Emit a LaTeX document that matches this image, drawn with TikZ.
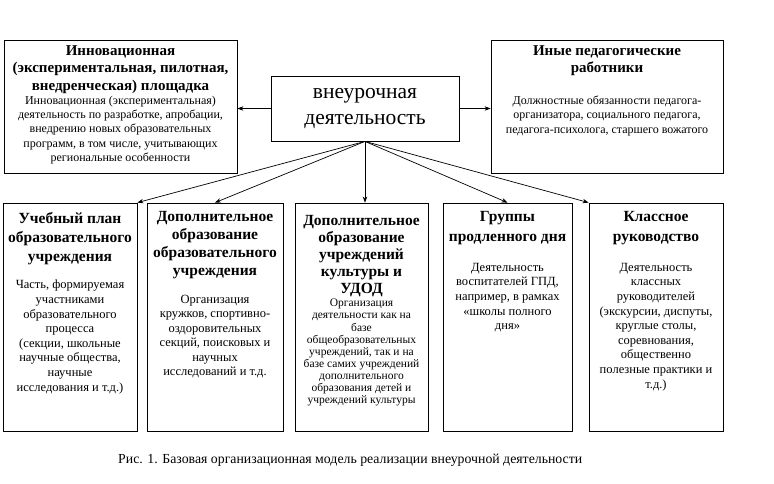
\documentclass[tikz,border=0pt]{standalone}
\usepackage{fontspec}
\setmainfont{Liberation Serif}
\usetikzlibrary{arrows.meta,calc}
\begin{document}
\begin{tikzpicture}[x=1pt,y=-1pt,
  box/.style={draw, line width=0.8pt, inner sep=0pt},
  conn/.style={-{Stealth[length=6pt,width=4.5pt]}, line width=0.7pt},
  ttl/.style={anchor=north, align=center, inner sep=0pt, font=\bfseries\fontsize{15.5}{19}\selectfont},
  ttltop/.style={anchor=north, align=center, inner sep=0pt, font=\bfseries\fontsize{15}{17.5}\selectfont},
  bdy/.style={anchor=north, align=center, inner sep=0pt, font=\fontsize{12.5}{14.6}\selectfont},
  bdytop/.style={anchor=north, align=center, inner sep=0pt, font=\fontsize{12}{14.2}\selectfont},
  bdysmall/.style={anchor=north, align=center, inner sep=0pt, font=\fontsize{11.5}{12.1}\selectfont},
  captext/.style={anchor=west, inner sep=0pt, font=\fontsize{13.8}{16}\selectfont}
]
\useasboundingbox (0,0) rectangle (774,483);

% top row
\node[box, minimum width=233, minimum height=133] (L) at (120.5,106.5) {};
\node[box, minimum width=188, minimum height=65, align=center,
      font=\fontsize{21.5}{26.5}\selectfont] (C) at (365,108.5) {внеурочная\\деятельность};
\node[box, minimum width=232, minimum height=133] (R) at (607,106.5) {};

\node[ttltop] (Lt) at (120.5,45) {Инновационная\\(экспериментальная, пилотная,\\внедренческая) площадка};
\node[bdytop] (Lb) at (120.5,96) {Инновационная (экспериментальная)\\деятельность по разработке, апробации,\\внедрению новых образовательных\\программ, в том числе, учитывающих\\региональные особенности};

\node[ttltop] (Rt) at (607,45) {Иные педагогические\\работники};
\node[bdytop] (Rb) at (607,96) {Должностные обязанности педагога-\\организатора, социального педагога,\\педагога-психолога, старшего вожатого};

% bottom row
\node[box, minimum width=134, minimum height=228] (b1) at (70,317) {};
\node[box, minimum width=136, minimum height=228] (b2) at (215,317) {};
\node[box, minimum width=133, minimum height=228] (b3) at (361.5,317) {};
\node[box, minimum width=129, minimum height=228] (b4) at (507.5,317) {};
\node[box, minimum width=134, minimum height=228] (b5) at (656,317) {};

\node[ttl] (t1) at (70,212) {Учебный план\\образовательного\\учреждения};
\node[bdy] (d1) at (70,280) {Часть, формируемая\\участниками\\образовательного\\процесса\\(секции, школьные\\научные общества,\\научные\\исследования и т.д.)};

\node[ttl, font=\bfseries\fontsize{15.5}{18}\selectfont] (t2) at (215,211) {Дополнительное\\образование\\образовательного\\учреждения};
\node[bdy, font=\fontsize{12.5}{14.4}\selectfont] (d2) at (215,295) {Организация\\кружков, спортивно-\\оздоровительных\\секций, поисковых и\\научных\\исследований и т.д.};

\node[ttl, font=\bfseries\fontsize{15.5}{17}\selectfont] (t3) at (361.5,215) {Дополнительное\\образование\\учреждений\\культуры и\\УДОД};
\node[bdysmall] (d3) at (361.5,299) {Организация\\деятельности как на\\базе\\общеобразовательных\\учреждений, так и на\\базе самих учреждений\\дополнительного\\образования детей и\\учреждений культуры};

\node[ttl, font=\bfseries\fontsize{15.5}{20}\selectfont] (t4) at (507.5,211) {Группы\\продленного дня};
\node[bdy] (d4) at (507.5,263) {Деятельность\\воспитателей ГПД,\\например, в рамках\\«школы полного\\дня»};

\node[ttl, font=\bfseries\fontsize{15.5}{20}\selectfont] (t5) at (656,211) {Классное\\руководство};
\node[bdy] (d5) at (656,263) {Деятельность\\классных\\руководителей\\(экскурсии, диспуты,\\круглые столы,\\соревнования,\\общественно\\полезные практики и\\т.д.)};

% connectors
\draw[conn] (C.west) -- (C.west -| L.east);
\draw[conn] (C.east) -- (C.east -| R.west);
\draw[conn] (C.south) -- (b1.north east);
\draw[conn] (C.south) -- (b2.north);
\draw[conn] (C.south) -- (C.south |- b3.north);
\draw[conn] (C.south) -- (b4.north);
\draw[conn] (C.south) -- (b5.north west);

% caption
\node[captext] (caption) at (118,460) {Рис. 1. Базовая организационная модель реализации внеурочной деятельности};
\end{tikzpicture}
\end{document}
